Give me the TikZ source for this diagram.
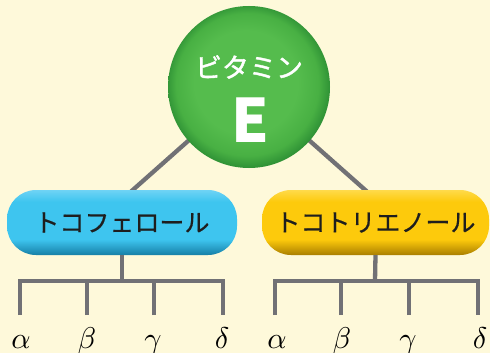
\documentclass[tikz,border=0pt]{standalone}
\usepackage{fontspec}
\newfontfamily\jp{Noto Sans CJK JP}
\newfontfamily\jpm{Noto Sans CJK JP}[FakeBold=1.4]
\newfontfamily\jpp{Noto Sans CJK JP}[FakeBold=0.5]
\definecolor{bgc}{HTML}{FEF9DA}
\definecolor{gA}{HTML}{55BC4D}
\definecolor{gB}{HTML}{48B043}
\definecolor{gC}{HTML}{2A8C33}
\definecolor{bluL}{HTML}{6FD3F5}
\definecolor{bluM}{HTML}{3EC5EF}
\definecolor{bluD}{HTML}{167FA6}
\definecolor{yelL}{HTML}{FFDA4A}
\definecolor{yelM}{HTML}{FDCA0C}
\definecolor{yelD}{HTML}{A97E00}
\definecolor{linec}{HTML}{717175}
\definecolor{txtc}{HTML}{1E1E1E}
\pgfdeclareradialshading{vitball}{\pgfpoint{-2bp}{3bp}}{color(0bp)=(gA); color(16bp)=(gA); color(22bp)=(gB); color(26bp)=(gC); color(30bp)=(gC)}
\pgfdeclareverticalshading{bluepill}{100bp}{color(0bp)=(bluD); color(25bp)=(bluD); color(37bp)=(bluM); color(66bp)=(bluM); color(75bp)=(bluL); color(100bp)=(bluL)}
\pgfdeclareverticalshading{yelpill}{100bp}{color(0bp)=(yelD); color(25bp)=(yelD); color(37bp)=(yelM); color(66bp)=(yelM); color(75bp)=(yelL); color(100bp)=(yelL)}
\begin{document}
\begin{tikzpicture}[x=1pt,y=-1pt,
  conn/.style={draw=linec,line width=4.3pt},
  vitnode/.style={circle,minimum size=162pt,inner sep=0pt,shading=vitball},
  pill/.style={rectangle,rounded corners=29pt,minimum height=65pt,inner sep=0pt,
    text=txtc,font=\jpp\fontsize{25}{28}\selectfont},
  greek/.style={anchor=base,text=black,inner sep=0pt}]
\fill[bgc] (0,0) rectangle (490,353);
\useasboundingbox (0,0) rectangle (490,353);
% connectors from circle
\coordinate (vc) at (249,87);
\coordinate (tl) at (126,196);
\coordinate (tr) at (372,196);
\draw[conn] (vc) -- (tl);
\draw[conn] (vc) -- (tr);
% circle
\node[vitnode] (v) at (vc) {};
\node[text=white,font=\jpm\fontsize{27}{30}\selectfont] (vt) at (249,67) {ビタミン};
\node[text=white,font=\jp\bfseries\fontsize{60}{60}\selectfont,anchor=base,inner sep=0pt] (ve) at (250,142) {E};
% pills
\node[pill,minimum width=230pt,shading=bluepill] (toco) at (122,222.5) {トコフェロール};
\node[pill,minimum width=227pt,shading=yelpill] (toct) at (375.5,222.5) {トコトリエノール};
% left tree
\node[greek] (la) at (21,348) {\scalebox{3}{$\alpha$}};
\node[greek] (lb) at (87,348) {\scalebox{3}{$\beta$}};
\node[greek] (lg) at (153,348) {\scalebox{3}{$\gamma$}};
\node[greek] (ld) at (222,348) {\scalebox{3}{$\delta$}};
\coordinate (lj) at (122,281);
\coordinate (l1) at (20,315);
\coordinate (l2) at (87,315);
\coordinate (l3) at (154,315);
\coordinate (l4) at (223,315);
\draw[conn] (toco.south) -- (lj);
\draw[conn] (l1) |- (lj) -| (l4);
\draw[conn] (l2) -- (l2 |- lj);
\draw[conn] (l3) -- (l3 |- lj);
% right tree
\node[greek] (ra) at (277,348) {\scalebox{3}{$\alpha$}};
\node[greek] (rb) at (342,348) {\scalebox{3}{$\beta$}};
\node[greek] (rg) at (408,348) {\scalebox{3}{$\gamma$}};
\node[greek] (rd) at (480,348) {\scalebox{3}{$\delta$}};
\coordinate (rj) at (375,281);
\coordinate (r1) at (275,315);
\coordinate (r2) at (341,315);
\coordinate (r3) at (409,315);
\coordinate (r4) at (478,315);
\draw[conn] (toct.south) -- (rj);
\draw[conn] (r1) |- (rj) -| (r4);
\draw[conn] (r2) -- (r2 |- rj);
\draw[conn] (r3) -- (r3 |- rj);
\end{tikzpicture}
\end{document}
